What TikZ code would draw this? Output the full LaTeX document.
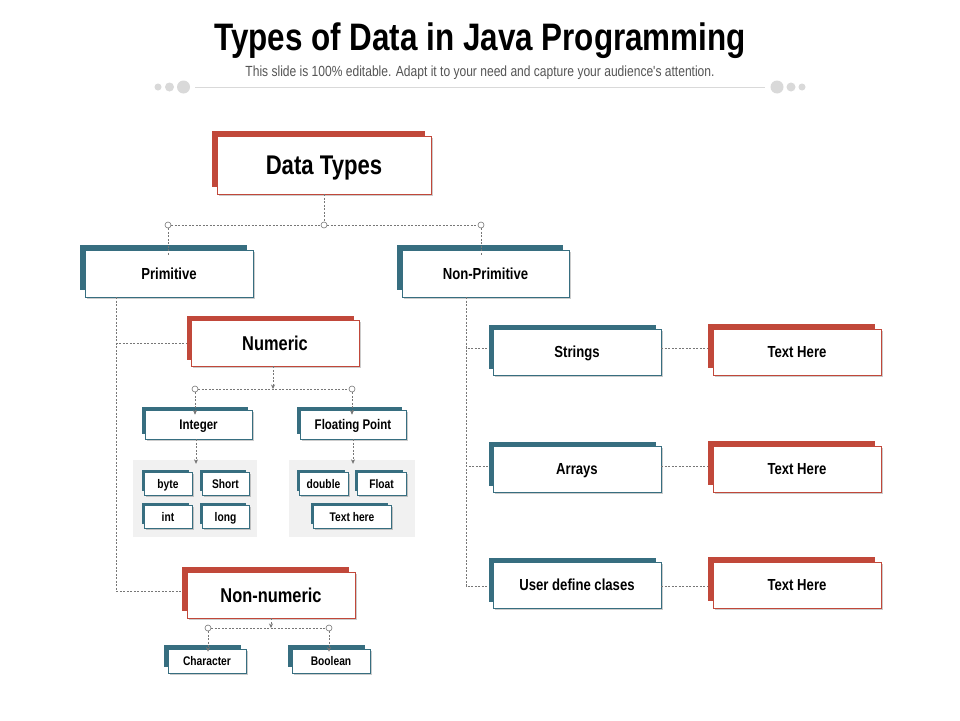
\documentclass[tikz,border=0pt]{standalone}
\usepackage{fontspec}
\newfontfamily\nf[FakeStretch=0.82]{Liberation Sans}
\usetikzlibrary{shadows,arrows.meta}
\definecolor{accR}{HTML}{C1483A}
\definecolor{accT}{HTML}{376E80}
\definecolor{lg}{HTML}{777777}
\definecolor{panel}{HTML}{F1F1F1}
\definecolor{deco}{HTML}{D9D9D9}
\definecolor{subg}{HTML}{555555}
\tikzset{
  conn/.style={draw=lg, dash pattern=on 2pt off 1.5pt, line width=0.6pt},
  arr/.style={conn, -{Stealth[length=4.5pt,width=4pt]}},
  knot/.style={circle, draw=lg, fill=white, inner sep=0pt, minimum size=6pt, line width=0.6pt},
  front/.style={draw=#1, fill=white, line width=0.6pt, inner sep=0pt,
    drop shadow={shadow xshift=1.5pt, shadow yshift=-2pt, opacity=0.2, fill=black}},
  panelbox/.style={fill=panel, inner sep=0pt},
  decodot/.style={circle, fill=deco, inner sep=0pt},
}
% name, cx, cy, w, h, color, offset, fontsize, text
\newcommand\cbox[9]{%
  \fill[#6] ({#2-#4/2-#7},{#3-#5/2-#7}) rectangle ({#2+#4/2-#7-1},{#3+#5/2-#7-2});
  \pgfmathsetmacro\capht{0.72*#8}%
  \node[front=#6, minimum width=#4pt, minimum height=#5pt,
        text height=\capht pt, text depth=0pt,
        font=\nf\bfseries\fontsize{#8}{#8}\selectfont] (#1) at (#2,#3) {#9};
}
\begin{document}
\begin{tikzpicture}[x=1pt,y=-1pt]
\useasboundingbox[fill=white] (0,0) rectangle (960,720);

% title
\node[anchor=base, font=\nf\bfseries\fontsize{38.3}{40}\selectfont] (title) at (480,50) {Types of Data in Java Programming};
\node[anchor=base, text=subg, font=\nf\fontsize{14.7}{16}\selectfont] (sub) at (480,76) {This slide is 100\% editable. Adapt it to your need and capture your audience's attention.};
\node[decodot, minimum size=7pt] (dl1) at (158,87) {};
\node[decodot, minimum size=9pt] (dl2) at (169.5,87) {};
\node[decodot, minimum size=13pt] (dl3) at (183.5,87) {};
\node[decodot, minimum size=13pt] (dr1) at (777,87) {};
\node[decodot, minimum size=9pt] (dr2) at (791,87) {};
\node[decodot, minimum size=7pt] (dr3) at (802,87) {};
\draw[deco, line width=1pt] ([xshift=5pt]dl3.east) -- ([xshift=-5pt]dr1.west);

% panels
\node[panelbox, minimum width=124pt, minimum height=77pt] (pan1) at (195,498.5) {};
\node[panelbox, minimum width=126pt, minimum height=77pt] (pan2) at (352,498.5) {};

% boxes
\cbox{dt}{324}{165}{214}{58}{accR}{5}{27}{Data Types}
\cbox{prim}{169}{273.5}{168}{47}{accT}{5}{16}{Primitive}
\cbox{np}{485.5}{273.5}{167}{47}{accT}{5}{16}{Non-Primitive}
\cbox{num}{275}{343}{168}{46}{accR}{4.5}{20}{Numeric}
\cbox{int}{198.5}{424.5}{107}{29}{accT}{3}{14}{Integer}
\cbox{fp}{353}{424.5}{106}{29}{accT}{3}{14}{Floating Point}
\cbox{byte}{168}{483.5}{48}{23}{accT}{2.5}{12.5}{byte}
\cbox{short}{225.5}{483.5}{47}{23}{accT}{2.5}{12.5}{Short}
\cbox{intt}{168}{516.5}{48}{23}{accT}{2.5}{12.5}{int}
\cbox{long}{225.5}{516.5}{47}{23}{accT}{2.5}{12.5}{long}
\cbox{double}{323.5}{483.5}{49}{23}{accT}{2.5}{12.5}{double}
\cbox{float}{381.5}{483.5}{49}{23}{accT}{2.5}{12.5}{Float}
\cbox{thsmall}{352}{516.5}{78}{23}{accT}{2.5}{12.5}{Text here}
\cbox{nn}{271}{595}{168}{46}{accR}{5}{20}{Non-numeric}
\cbox{chr}{207}{661}{78}{24}{accT}{4}{12.5}{Character}
\cbox{bool}{331}{661}{78}{24}{accT}{4}{12.5}{Boolean}
\cbox{str}{577}{352}{168}{46}{accT}{4.5}{16}{Strings}
\cbox{arr}{577}{469}{168}{46}{accT}{4.5}{16}{Arrays}
\cbox{udc}{577}{585}{168}{46}{accT}{4.5}{16}{User define clases}
\cbox{th1}{797}{352}{168}{46}{accR}{5}{16}{Text Here}
\cbox{th2}{797}{469}{168}{46}{accR}{5}{16}{Text Here}
\cbox{th3}{797}{585}{168}{46}{accR}{5}{16}{Text Here}

% top connectors
\node[knot] (kdt) at (324,225) {};
\node[knot] (kp) at (168,225) {};
\node[knot] (knp) at (481,225) {};
\draw[conn] (dt.south) -- (kdt);
\draw[conn] (kp) -- (kdt);
\draw[conn] (kdt) -- (knp);
\draw[conn] (kp) -- ([yshift=-5pt]kp |- prim.north);
\draw[conn] (knp) -- ([yshift=-5pt]knp |- np.north);

% primitive branch
\coordinate (pl) at (116,300);
\draw[conn] (prim.south -| pl) |- ([xshift=-4.5pt,yshift=0pt]num.west);
\draw[conn] (prim.south -| pl) |- ([xshift=-5pt,yshift=4pt]nn.west);

% numeric
\node[knot] (ki) at (195,389) {};
\node[knot] (kf) at (352,389) {};
\coordinate (kn) at (273,389);
\draw[arr] (num.south -| kn) -- (kn);
\draw[conn] (ki) -- (kf);
\draw[arr] (ki) -- ([yshift=-5pt]ki |- int.north);
\draw[arr] (kf) -- ([yshift=-5pt]kf |- fp.north);
\draw[arr] ([xshift=-2.5pt]int.south) -- ([xshift=-2.5pt,yshift=-4pt]int.south |- pan1.north);
\draw[arr] (fp.south) -- ([yshift=-4pt]fp.south |- pan2.north);

% non-numeric
\node[knot] (kc) at (208,628) {};
\node[knot] (kb) at (329,628) {};
\coordinate (knn) at (271,628);
\draw[arr] (nn.south) -- (knn);
\draw[conn] (kc) -- (kb);
\draw[arr] (kc) -- ([yshift=-3pt]kc |- chr.north);
\draw[arr] (kb) -- ([yshift=-3pt]kb |- bool.north);

% non-primitive branch
\coordinate (nl) at (466,300);
\draw[conn] (np.south -| nl) |- ([xshift=-4.5pt,yshift=4pt]str.west);
\draw[conn] (np.south -| nl) |- ([xshift=-4.5pt,yshift=3pt]arr.west);
\draw[conn] (np.south -| nl) |- ([xshift=-4.5pt,yshift=-1pt]udc.west);
\draw[conn] ([yshift=4pt]str.east) -- ([xshift=-5pt,yshift=4pt]th1.west);
\draw[conn] ([yshift=3pt]arr.east) -- ([xshift=-5pt,yshift=3pt]th2.west);
\draw[conn] ([yshift=-1pt]udc.east) -- ([xshift=-5pt,yshift=-1pt]th3.west);
\end{tikzpicture}
\end{document}
